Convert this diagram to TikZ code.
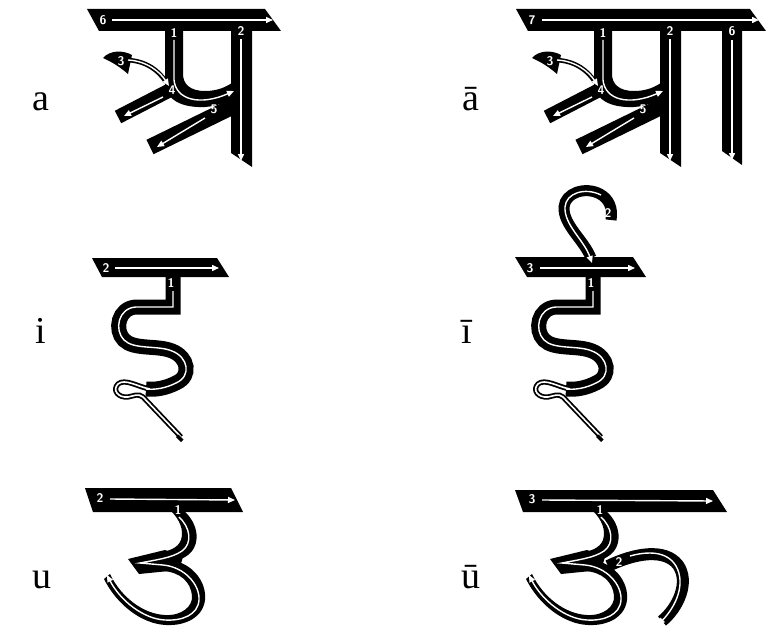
\documentclass[tikz,border=0pt]{standalone}
\usepackage{fontspec}
\setmainfont{Liberation Serif}
\usetikzlibrary{arrows.meta}
\tikzset{
  band/.style={draw=black,line width=#1},
  wl/.style={draw=white,line width=1.4pt},
  wa/.style={draw=white,line width=1.4pt,-{Triangle[length=7pt,width=6pt]}},
  thinb/.style={draw=black,line width=1.8pt,double=white,double distance=1.6pt},
  num/.style={text=white,font=\sffamily\bfseries\fontsize{12.5}{12.5}\selectfont,inner sep=0pt},
  lett/.style={font=\fontsize{38}{38}\selectfont,anchor=base,inner sep=0pt},
  abody/.pic={
    \fill (165,31) -- (165,82) .. controls (165,100) and (182,108) .. (205,107) .. controls (220,106) and (232,100) .. (236,94) -- (236,80) .. controls (226,88) and (216,91) .. (205,91) .. controls (190,91) and (183,84) .. (183,74) -- (183,31) -- cycle;
    \fill (231,31) -- (252,31) -- (252,167) -- (231,153) -- cycle;
    \draw[band=14] (178,86) -- (118,117);
    \draw[band=16] (238,104) -- (150,147);
    \fill (103,58) .. controls (110,50) and (123,50) .. (132,55) -- (128,74) .. controls (120,67) and (112,62) .. (103,58) -- cycle;
    \draw[black,line width=4.6pt] (127,60) .. controls (147,61) and (159,71) .. (166,82);
    \draw[wa] (128,60) .. controls (147,61) and (160,72) .. (169,86);
    \draw[wa] (174,40) -- (174,80) .. controls (176,100) and (200,106) .. (234,91);
    \draw[wa] (241,39) -- (241,161);
    \draw[wa] (163,97) -- (124,116);
    \draw[wa] (205,118) -- (157,147);
    \node[num] (-n1) at (174,33) {1};
    \node[num] (-n2) at (241,31) {2};
    \node[num] (-n3) at (121,61) {3};
    \node[num] (-n4) at (172,90) {4};
    \node[num] (-n5) at (214,109) {5};
  },
  ibody/.pic={
    \draw[band=15,line join=miter] (173,277) -- (173,307) -- (136,307) .. controls (118,308) and (114,330) .. (124,340) .. controls (134,350) and (158,345) .. (172,351) .. controls (188,357) and (192,376) .. (176,383) .. controls (166,388) and (156,390) .. (146,389);
    \draw[thinb] (150,389) .. controls (138,387) and (125,378) .. (118,384) .. controls (112,390) and (118,398) .. (128,397) .. controls (134,396) and (138,393) .. (143,397) -- (181,437);
    \draw[wl,line join=miter] (173,291) -- (173,307) -- (136,307) .. controls (118,308) and (114,330) .. (124,340) .. controls (134,350) and (158,345) .. (172,351) .. controls (188,357) and (192,376) .. (176,383) .. controls (166,388) and (156,390) .. (146,389);
    \fill (178.5,434.5) -- (183.5,439.5) -- (181,442) -- (176,437) -- cycle;
    \node[num] (-n1) at (171,283) {1};
  },
  ubody/.pic={
    \fill (171,511) -- (184,511) .. controls (199,524) and (201,545) .. (188,555) .. controls (180,561) and (170,563) .. (158,563) -- (158,552) .. controls (168,552) and (178,548) .. (181,540) .. controls (184,530) and (180,520) .. (171,511) -- cycle;
    \fill (128,559) -- (165,550) -- (183,557) -- (179,570) -- (139,574) -- cycle;
    \fill (163,559) .. controls (192,560) and (207,582) .. (205,600) .. controls (203,617) and (186,626) .. (166,625) .. controls (142,624) and (117,605) .. (104,579) -- (110,574) .. controls (121,597) and (143,614) .. (165,615) .. controls (182,616) and (193,606) .. (192,596) .. controls (191,582) and (180,572) .. (163,571) -- cycle;
    \draw[wa] (179,517) .. controls (190,527) and (193,543) .. (182,551) .. controls (172,558) and (155,560) .. (140,563) -- (163,565) .. controls (185,567) and (200,585) .. (199,600) .. controls (198,615) and (182,621) .. (165,620) .. controls (143,619) and (120,600) .. (107,575);
    \node[num] (-n1) at (178,510) {1};
  }
}
\begin{document}
\begin{tikzpicture}[x=1pt,y=-1pt]
\fill[white] (0,0) rectangle (776,642);
\useasboundingbox (0,0) rectangle (776,642);

% row labels
\node[lett] (la) at (41,110) {a};
\node[lett] (laa) at (471,110) {ā};
\node[lett] (li) at (41,343) {i};
\node[lett] (lii) at (467,343) {ī};
\node[lett] (lu) at (42,588) {u};
\node[lett] (luu) at (471,588) {ū};

% ---- a
\fill (87,9) -- (265,9) -- (281,31) -- (99,31) -- cycle;
\draw[wa] (112,20) -- (273,20);
\node[num] (a6) at (103,20) {6};
\pic (A) at (0,0) {abody};

% ---- aa
\fill (516,9) -- (750,9) -- (766,31) -- (528,31) -- cycle;
\draw[wa] (542,20) -- (759,20);
\node[num] (aa7) at (532,20) {7};
\pic (AA) at (429,0) {abody};
\fill (722,31) -- (742,31) -- (742,165) -- (722,151) -- cycle;
\draw[wa] (732,40) -- (732,160);
\node[num] (aa6) at (732,31) {6};

% ---- i
\fill (92,258) -- (217,258) -- (229,277) -- (102,277) -- cycle;
\draw[wa] (115,268) -- (219,268);
\node[num] (i2) at (106,268) {2};
\pic (I) at (0,0) {ibody};

% ---- ii
\fill (515,257) -- (633,257) -- (646,277) -- (527,277) -- cycle;
\draw[wa] (540,268) -- (635,268);
\node[num] (ii3) at (530,268) {3};
\pic (II) at (420,0) {ibody};
\draw[band=11] (591,258) .. controls (584,240) and (563,225) .. (564,207) .. controls (565,193) and (585,186) .. (600,194) .. controls (609,199) and (613,208) .. (611,220);
\draw[wa] (601,195) .. controls (585,187) and (566,193) .. (565,207) .. controls (564,225) and (584,240) .. (592,263);
\node[num] (ii2) at (608,213) {2};

% ---- u
\fill (85,488) -- (231,488) -- (243,512) -- (93,512) -- cycle;
\draw[wa] (110,499) -- (235,500);
\node[num] (u2) at (100,498) {2};
\pic (U) at (0,0) {ubody};

% ---- uu
\fill (515,490) -- (713,490) -- (727,512) -- (523,512) -- cycle;
\draw[wa] (542,500) -- (713,501);
\node[num] (uu3) at (532,499) {3};
\pic (UU) at (422,0) {ubody};
\draw[band=12] (608,566) .. controls (635,553) and (665,548) .. (678,565) .. controls (690,582) and (678,608) .. (662,621);
\draw[wa] (630,556) .. controls (648,551) and (667,551) .. (676,566) .. controls (686,584) and (676,606) .. (658,625);
\node[num] (uu2) at (619,562) {2};
\end{tikzpicture}
\end{document}
